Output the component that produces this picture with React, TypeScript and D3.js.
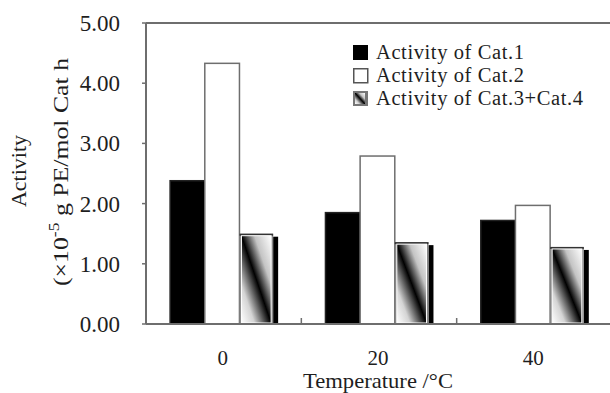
import * as d3 from 'd3';
import { useEffect, useRef } from 'react';

const temperatures = ['0', '20', '40'];
const seriesNames = ['Activity of Cat.1', 'Activity of Cat.2', 'Activity of Cat.3+Cat.4'];
const cat1 = [2.38, 1.85, 1.72];
const cat2 = [4.33, 2.79, 1.97];
const cat34 = [1.5, 1.36, 1.28];
const yTicks = [0, 1, 2, 3, 4, 5];

const W = 610;
const H = 393;
const FONT = '"Liberation Serif", "Times New Roman", serif';
const INK = '#1e1e1e';

export default function App() {
    const svgRef = useRef(null);

    useEffect(() => {
        if (!svgRef.current) {
            return;
        }
        const svg = d3.select(svgRef.current);
        svg.selectAll('*').remove();
        svg.attr('width', W).attr('height', H);

        const left = 146;
        const top = 23;
        const bottom = 324;
        const right = 612;

        const x = d3.scaleBand().domain(temperatures).range([left, right]).padding(0);
        const sub = d3
            .scaleBand()
            .domain(seriesNames)
            .range([0, x.bandwidth()])
            .paddingInner(0)
            .paddingOuter(0.74)
            .align(0.47);
        const y = d3.scaleLinear().domain([0, 5]).range([bottom, top]);

        const defs = svg.append('defs');
        const grad = defs
            .append('linearGradient')
            .attr('id', 'diag')
            .attr('x1', 0)
            .attr('y1', 1)
            .attr('x2', 1)
            .attr('y2', 0);
        grad.append('stop').attr('offset', '0%').attr('stop-color', '#ffffff');
        grad.append('stop').attr('offset', '22%').attr('stop-color', '#d4d4d4');
        grad.append('stop').attr('offset', '50%').attr('stop-color', '#000000');
        grad.append('stop').attr('offset', '72%').attr('stop-color', '#c4c4c4');
        grad.append('stop').attr('offset', '100%').attr('stop-color', '#ffffff');

        svg.append('rect').attr('width', W).attr('height', H).attr('fill', '#fff');

        const values = [cat1, cat2, cat34];
        const bw = sub.bandwidth();

        temperatures.forEach((t, gi) => {
            const gx = x(t) ?? 0;
            seriesNames.forEach((name, si) => {
                const v = values[si][gi];
                const bx = gx + (sub(name) ?? 0);
                const by = y(v);
                const bh = bottom - by;
                if (si === 2) {
                    // drop shadow on the right
                    svg.append('rect')
                        .attr('x', bx + bw - 1)
                        .attr('y', by + 3)
                        .attr('width', 5)
                        .attr('height', bh - 3)
                        .attr('fill', '#000');
                    svg.append('rect')
                        .attr('x', bx)
                        .attr('y', by)
                        .attr('width', bw - 1)
                        .attr('height', bh)
                        .attr('fill', '#888');
                    svg.append('rect')
                        .attr('x', bx)
                        .attr('y', by)
                        .attr('width', bw - 1)
                        .attr('height', 2)
                        .attr('fill', '#333');
                    svg.append('rect')
                        .attr('x', bx + 2)
                        .attr('y', by + 2)
                        .attr('width', bw - 5)
                        .attr('height', bh - 3)
                        .attr('fill', 'url(#diag)')
                        .attr('stroke', '#fff')
                        .attr('stroke-width', 1);
                } else {
                    svg.append('rect')
                        .attr('x', bx)
                        .attr('y', by)
                        .attr('width', bw)
                        .attr('height', bh)
                        .attr('fill', si === 0 ? '#000' : '#fff')
                        .attr('stroke', si === 0 ? '#222' : '#6e6e6e')
                        .attr('stroke-width', 1.5);
                }
            });
        });

        // frame
        const frame = '#6e6e6e';
        svg.append('line').attr('x1', left).attr('x2', W).attr('y1', top).attr('y2', top)
            .attr('stroke', frame).attr('stroke-width', 2);
        svg.append('line').attr('x1', left).attr('x2', W).attr('y1', bottom).attr('y2', bottom)
            .attr('stroke', frame).attr('stroke-width', 2);
        svg.append('line').attr('x1', left).attr('x2', left).attr('y1', top).attr('y2', bottom)
            .attr('stroke', frame).attr('stroke-width', 2);

        // y ticks
        yTicks.forEach((v) => {
            svg.append('line')
                .attr('x1', left - 4)
                .attr('x2', left)
                .attr('y1', y(v))
                .attr('y2', y(v))
                .attr('stroke', frame)
                .attr('stroke-width', 1.5);
            svg.append('text')
                .attr('x', 120)
                .attr('y', y(v) + 8)
                .attr('text-anchor', 'end')
                .attr('font-family', FONT)
                .attr('font-size', 23)
                .attr('fill', INK)
                .text(d3.format('.2f')(v));
        });

        // x ticks between groups
        temperatures.slice(1).forEach((t) => {
            const tx = x(t) ?? 0;
            svg.append('line')
                .attr('x1', tx)
                .attr('x2', tx)
                .attr('y1', bottom)
                .attr('y2', bottom - 6)
                .attr('stroke', frame)
                .attr('stroke-width', 1.5);
        });

        temperatures.forEach((t) => {
            svg.append('text')
                .attr('x', (x(t) ?? 0) + x.bandwidth() / 2 - 1)
                .attr('y', 365)
                .attr('text-anchor', 'middle')
                .attr('font-family', FONT)
                .attr('font-size', 21)
                .attr('fill', INK)
                .text(t);
        });

        svg.append('text')
            .attr('x', 378)
            .attr('y', 388)
            .attr('text-anchor', 'middle')
            .attr('font-family', FONT)
            .attr('font-size', 21)
            .attr('textLength', 150)
            .attr('lengthAdjust', 'spacingAndGlyphs')
            .attr('fill', INK)
            .text('Temperature /°C');

        // y title
        svg.append('text')
            .attr('transform', 'translate(26,171) rotate(-90)')
            .attr('text-anchor', 'middle')
            .attr('font-family', FONT)
            .attr('font-size', 22)
            .attr('fill', INK)
            .text('Activity');

        const yt2 = svg.append('text')
            .attr('transform', 'translate(68,172) rotate(-90)')
            .attr('text-anchor', 'middle')
            .attr('font-family', FONT)
            .attr('font-size', 22)
            .attr('textLength', 228)
            .attr('lengthAdjust', 'spacingAndGlyphs')
            .attr('fill', INK);
        yt2.append('tspan').text('(×10');
        yt2.append('tspan').attr('dy', -9).attr('font-size', 15).text('-5');
        yt2.append('tspan').attr('dy', 9).text(' g PE/mol Cat h');

        // legend
        const leg = svg.append('g').attr('transform', 'translate(353,45)');
        seriesNames.forEach((name, i) => {
            const row = leg.append('g').attr('transform', `translate(0,${i * 23})`);
            if (i === 0) {
                row.append('rect').attr('width', 15).attr('height', 15).attr('fill', '#000');
            } else if (i === 1) {
                row.append('rect').attr('x', 0.75).attr('y', 0.75).attr('width', 14).attr('height', 14)
                    .attr('fill', '#fff').attr('stroke', '#555').attr('stroke-width', 1.5);
            } else {
                row.append('rect').attr('width', 15).attr('height', 15).attr('fill', '#777');
                row.append('rect').attr('x', 2).attr('y', 2).attr('width', 10).attr('height', 11)
                    .attr('fill', 'url(#diag)');
            }
            row.append('text')
                .attr('x', 23)
                .attr('y', 14)
                .attr('font-family', FONT)
                .attr('font-size', 20.5)
                .attr('letter-spacing', 0.6)
                .attr('fill', INK)
                .text(name);
        });
    }, []);

    return <svg ref={svgRef} style={{ position: 'absolute', left: 0, top: 0, display: 'block' }} />;
}
